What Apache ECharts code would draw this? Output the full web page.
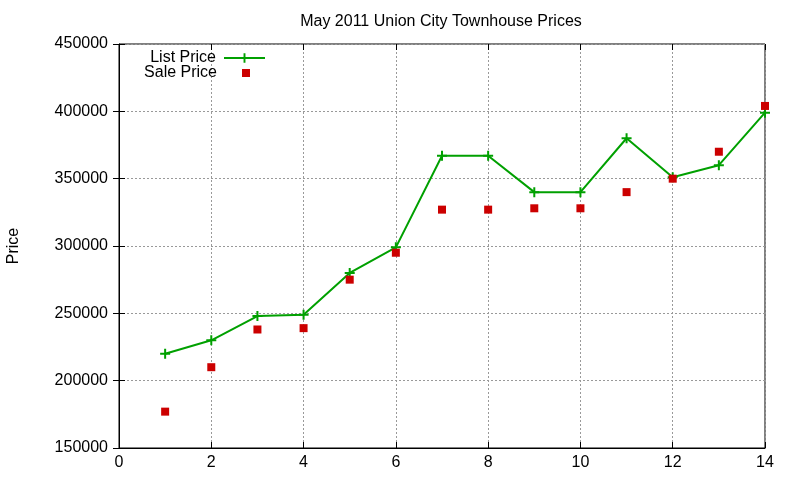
<!DOCTYPE html>
<html>
<head>
<meta charset="utf-8">
<script src="https://cdn.jsdelivr.net/npm/echarts@6/dist/echarts.min.js"></script>
<style>html,body{margin:0;padding:0;background:#fff}#c{width:800px;height:480px}</style>
</head>
<body>
<div id="c"></div>
<script>
var months = [1,2,3,4,5,6,7,8,9,10,11,12,13,14];
var listPrice = [220000,230000,248000,249000,280000,299000,367000,367000,340000,340000,380000,351000,360000,399000];
var salePrice = [177000,210000,238000,239000,275000,295000,327000,327000,328000,328000,340000,350000,370000,404000];
var titleText = 'May 2011 Union City Townhouse Prices';
var yName = 'Price';
var seriesNames = ['List Price','Sale Price'];

var font = 'Liberation Sans, Arial, sans-serif';
var chart = echarts.init(document.getElementById('c'), null, {renderer:'canvas'});
function pairs(xs, ys){ return xs.map(function(x,i){return [x, ys[i]];}); }
var plus = 'path://M4,0H6V4H10V6H6V10H4V6H0V4H4Z';
var tickStyle = {show:true, inside:true, length:6, lineStyle:{color:'#000', width:1}};
var gridLine = {show:true, lineStyle:{color:'#999999', type:[2,2], width:1}};
chart.setOption({
  animation:false,
  title:{text:titleText, left:436, textAlign:'center', top:9,
    textStyle:{fontFamily:font, fontSize:16, fontWeight:'normal', color:'#000'}},
  legend:[{
    right:534, top:50, padding:0, orient:'vertical', align:'right',
    itemWidth:41, itemHeight:12, selectedMode:false,
    textStyle:{fontFamily:font, fontSize:16, color:'#000', padding:[0,3,0,0]},
    data:[{name:seriesNames[0]}]
  },{
    right:550, top:65, padding:0, orient:'vertical', align:'right',
    itemWidth:8, itemHeight:8, selectedMode:false,
    textStyle:{fontFamily:font, fontSize:16, color:'#000', padding:[0,20,0,0]},
    data:[{name:seriesNames[1], icon:'rect'}]
  }],
  grid:{left:119, right:35, top:44, bottom:32, show:true, borderColor:'#000', borderWidth:1, outerBoundsMode:'none', containLabel:false},
  xAxis:[{
    type:'value', min:0, max:14, interval:2,
    axisLine:{show:true, lineStyle:{color:'#000'}},
    axisTick:tickStyle,
    axisLabel:{fontFamily:font, fontSize:16, color:'#000', margin:7},
    splitLine:gridLine
  },{
    type:'value', position:'top', min:0, max:14, interval:2,
    axisLine:{show:false}, axisTick:tickStyle, axisLabel:{show:false}, splitLine:{show:false}
  }],
  yAxis:[{
    type:'value', min:150000, max:450000, interval:50000,
    name:yName, nameLocation:'middle', nameGap:97, nameRotate:90,
    nameTextStyle:{fontFamily:font, fontSize:16, color:'#000'},
    axisLine:{show:true, lineStyle:{color:'#000'}},
    axisTick:tickStyle,
    axisLabel:{fontFamily:font, fontSize:16, color:'#000', margin:11, formatter:function(v){return String(v);}},
    splitLine:gridLine
  },{
    type:'value', position:'right', min:150000, max:450000, interval:50000,
    axisLine:{show:false}, axisTick:tickStyle, axisLabel:{show:false}, splitLine:{show:false}
  }],
  series:[{
    name:seriesNames[0], type:'line', data:pairs(months, listPrice),
    symbol:plus, symbolSize:10, showSymbol:true,
    lineStyle:{color:'#00a000', width:2},
    itemStyle:{color:'#00a000'}, z:3
  },{
    name:seriesNames[1], type:'scatter', data:pairs(months, salePrice),
    symbol:'rect', symbolSize:8,
    itemStyle:{color:'#cc0000', opacity:1}, z:4
  }]
});
</script>
</body>
</html>
